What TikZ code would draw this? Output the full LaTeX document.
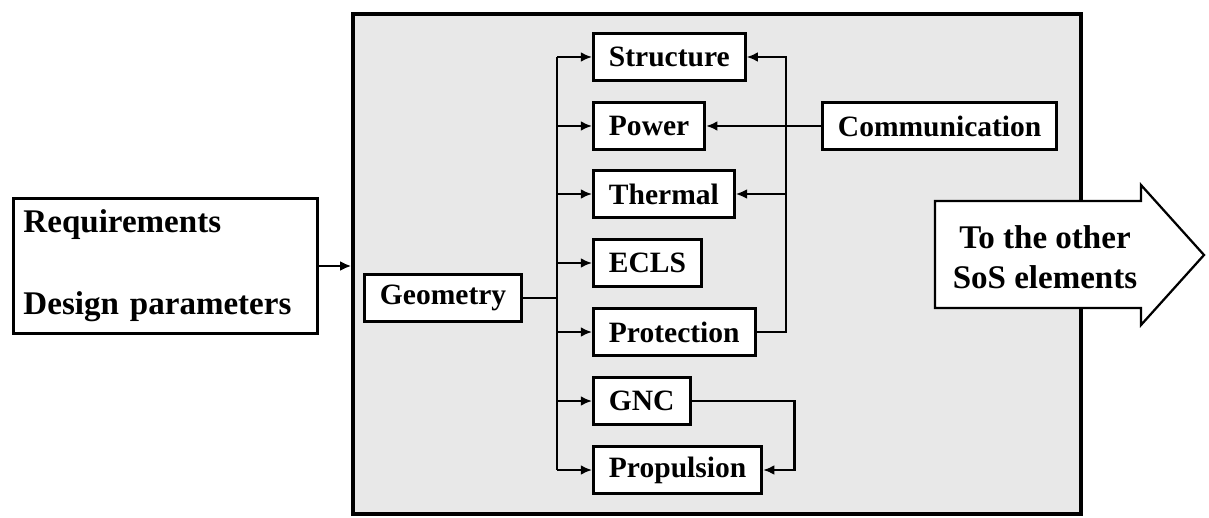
\documentclass[tikz,border=0pt]{standalone}
\usepackage{fontspec}
\setmainfont{Liberation Serif}
\usetikzlibrary{positioning,arrows.meta,calc}
\definecolor{panel}{HTML}{E8E8E8}
\definecolor{ink}{HTML}{000000}

\begin{document}
\begin{tikzpicture}[x=0.025cm, y=-0.025cm, >={Latex[length=8pt,width=7pt]},
    blk/.style={draw=ink, fill=white, line width=2.1pt, anchor=west, minimum height=1.18cm, inner xsep=11pt, font=\fontsize{21}{25}\selectfont\bfseries},
    link/.style={draw=ink, line width=1.5pt},
    bigtext/.style={font=\fontsize{23.5}{28.5}\selectfont\bfseries}]
        \useasboundingbox (0,0) rectangle (1209,518);
        \node[draw=ink, fill=panel, line width=2.5pt, minimum width=18.19cm, minimum height=12.49cm] (sys) at (717,264) {};
        \node[draw=ink, fill=white, line width=2.1pt, minimum height=3.375cm, text width=202pt, inner xsep=7pt, align=left, bigtext] (req) at (165.5,266) {Requirements\\[30pt]Design parameters};
        \node[blk] (struct) at (592,57) {Structure};
        \node[blk] (power) at (592,126) {Power};
        \node[blk] (therm) at (592,194) {Thermal};
        \node[blk] (ecls) at (592,263) {ECLS};
        \node[blk] (prot) at (592,332) {Protection};
        \node[blk] (gnc) at (592,401) {GNC};
        \node[blk] (prop) at (592,470) {Propulsion};
        \node[blk] (geo) at (363,298) {Geometry};
        \node[blk] (comm) at (821,126) {Communication};
        \coordinate (lbus) at (557,298);
        \coordinate (rbus) at (786,57);
        \draw[link, line width=2.1pt, ->] (req.east) -- (req.east -| sys.west);
        \draw[link] (geo.east) -- (lbus);
        \draw[link] (struct.west -| lbus) -- (prop.west -| lbus);
        \foreach \n in {struct,power,therm,ecls,prot,gnc,prop} \draw[link, ->] (\n.west -| lbus) -- (\n.west);
        \draw[link, ->] (prot.east) -| (rbus) -- (struct.east);
        \draw[link, ->] (therm.east -| rbus) -- (therm.east);
        \draw[link, ->] (comm.west) -- (power.east);
        \draw[link, ->] (gnc.east) -- ++(103,0) |- (prop.east);
        \draw[draw=ink, fill=white, line width=1.6pt] (935,201) -- (1141,201) -- (1141,185) -- (1204,255) -- (1141,325) -- (1141,308) -- (935,308) -- cycle;
        \node[bigtext, align=center] (sos) at (1045,257) {To the other\\SoS elements};
      \end{tikzpicture}
\end{document}
